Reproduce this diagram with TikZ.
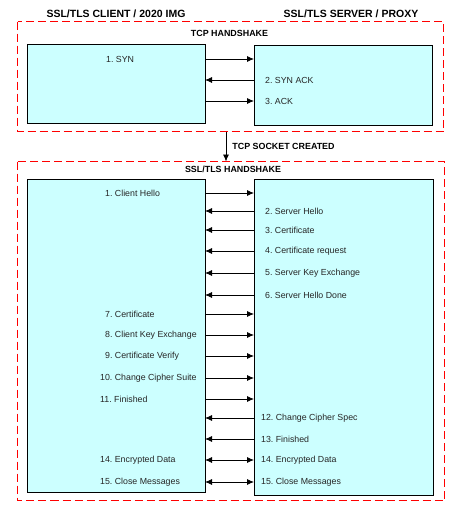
\documentclass[tikz,border=0pt]{standalone}
\usepackage{fontspec}
\setmainfont{Liberation Sans}
\usetikzlibrary{arrows.meta, calc}
\frenchspacing
\definecolor{boxcyan}{HTML}{CCFFFF}
\definecolor{stagered}{RGB}{255,0,0}
\tikzstyle{stage} = [draw=stagered, dash pattern=on 8pt off 4pt, line width=1.2pt]
\tikzstyle{party} = [rectangle, draw=black, fill=boxcyan, line width=0.8pt, inner sep=0pt, outer sep=0pt]
\tikzstyle{title} = [font=\fontsize{10.5}{12}\selectfont\bfseries, inner sep=0pt]
\tikzstyle{phase} = [font=\fontsize{8.9}{10}\selectfont\bfseries, inner sep=0pt]
\tikzstyle{msg} = [font=\fontsize{8.8}{10}\selectfont, text=black!85, inner sep=0pt, anchor=west]
\tikzstyle{arrow} = [line width=0.8pt, -{Latex[length=7pt,width=6pt]}]
\tikzstyle{both} = [line width=0.8pt, {Latex[length=7pt,width=6pt]}-{Latex[length=7pt,width=6pt]}]
\begin{document}
\begin{tikzpicture}[x=1pt, y=-1pt]
  \useasboundingbox (0,0) rectangle (463,512);
  % headers
  \node (client) [title] at (116,14) {SSL/TLS CLIENT / 2020 IMG};
  \node (server) [title] at (351,14) {SSL/TLS SERVER / PROXY};
  % tcp handshake
  \node (tcptitle) [phase] at (229.5,33) {TCP HANDSHAKE};
  \node (tcpcli) [party, minimum width=178pt, minimum height=79pt] at (116,83.5) {};
  \node (tcpsrv) [party, minimum width=178pt, minimum height=80pt] at (343,85) {};
  \node (syn) [msg] at (106,59) {1. SYN};
  \node (synack) [msg] at (265,80) {2. SYN ACK};
  \node (ack) [msg] at (265,101) {3. ACK};
  \draw [arrow] (syn -| tcpcli.east) -- (syn -| tcpsrv.west);
  \draw [arrow] (synack -| tcpsrv.west) -- (synack -| tcpcli.east);
  \draw [arrow] (ack -| tcpcli.east) -- (ack -| tcpsrv.west);
  % ssl/tls handshake
  \node (ssltitle) [phase] at (233,169) {SSL/TLS HANDSHAKE};
  \node (sslcli) [party, minimum width=178pt, minimum height=313pt] at (116,335.5) {};
  \node (sslsrv) [party, minimum width=179pt, minimum height=316pt] at (343.5,337) {};
  \node (chello) [msg] at (105,193) {1. Client Hello};
  \node (shello) [msg] at (265,211) {2. Server Hello};
  \node (scert) [msg] at (265,230) {3. Certificate};
  \node (certreq) [msg] at (265,251) {4. Certificate request};
  \node (skex) [msg] at (265,273) {5. Server Key Exchange};
  \node (sdone) [msg] at (265,295) {6. Server Hello Done};
  \node (ccert) [msg] at (105,314) {7. Certificate};
  \node (ckex) [msg] at (105,335) {8. Client Key Exchange};
  \node (cverify) [msg] at (105,356) {9. Certificate Verify};
  \node (ccs) [msg] at (100,378) {10. Change Cipher Suite};
  \node (cfin) [msg] at (100,399) {11. Finished};
  \node (scs) [msg] at (261,418) {12. Change Cipher Spec};
  \node (sfin) [msg] at (261,439) {13. Finished};
  \node (cdata) [msg] at (100,460) {14. Encrypted Data};
  \node (sdata) [msg] at (261,460) {14. Encrypted Data};
  \node (cclose) [msg] at (100,482) {15. Close Messages};
  \node (sclose) [msg] at (261,482) {15. Close Messages};
  \draw [arrow] (chello -| sslcli.east) -- (chello -| sslsrv.west);
  \draw [arrow] (shello -| sslsrv.west) -- (shello -| sslcli.east);
  \draw [arrow] (scert -| sslsrv.west) -- (scert -| sslcli.east);
  \draw [arrow] (certreq -| sslsrv.west) -- (certreq -| sslcli.east);
  \draw [arrow] (skex -| sslsrv.west) -- (skex -| sslcli.east);
  \draw [arrow] (sdone -| sslsrv.west) -- (sdone -| sslcli.east);
  \draw [arrow] (ccert -| sslcli.east) -- (ccert -| sslsrv.west);
  \draw [arrow] (ckex -| sslcli.east) -- (ckex -| sslsrv.west);
  \draw [arrow] (cverify -| sslcli.east) -- (cverify -| sslsrv.west);
  \draw [arrow] (ccs -| sslcli.east) -- (ccs -| sslsrv.west);
  \draw [arrow] (cfin -| sslcli.east) -- (cfin -| sslsrv.west);
  \draw [arrow] (scs -| sslsrv.west) -- (scs -| sslcli.east);
  \draw [arrow] (sfin -| sslsrv.west) -- (sfin -| sslcli.east);
  \draw [both] (cdata -| sslcli.east) -- (sdata -| sslsrv.west);
  \draw [both] (cclose -| sslcli.east) -- (sclose -| sslsrv.west);
  % dashed stages
  \draw [stage] (17.5,21.5) rectangle (443.5,131.5);
  \draw [stage] (17.5,161.5) rectangle (444.5,500.5);
  \coordinate (tcpbottom) at (226,131.5);
  \coordinate (ssltop) at (226,161.5);
  \draw [arrow] (tcpbottom) -- node[phase, anchor=west, xshift=6pt] (socket) {TCP SOCKET CREATED} (ssltop);
\end{tikzpicture}
\end{document}
